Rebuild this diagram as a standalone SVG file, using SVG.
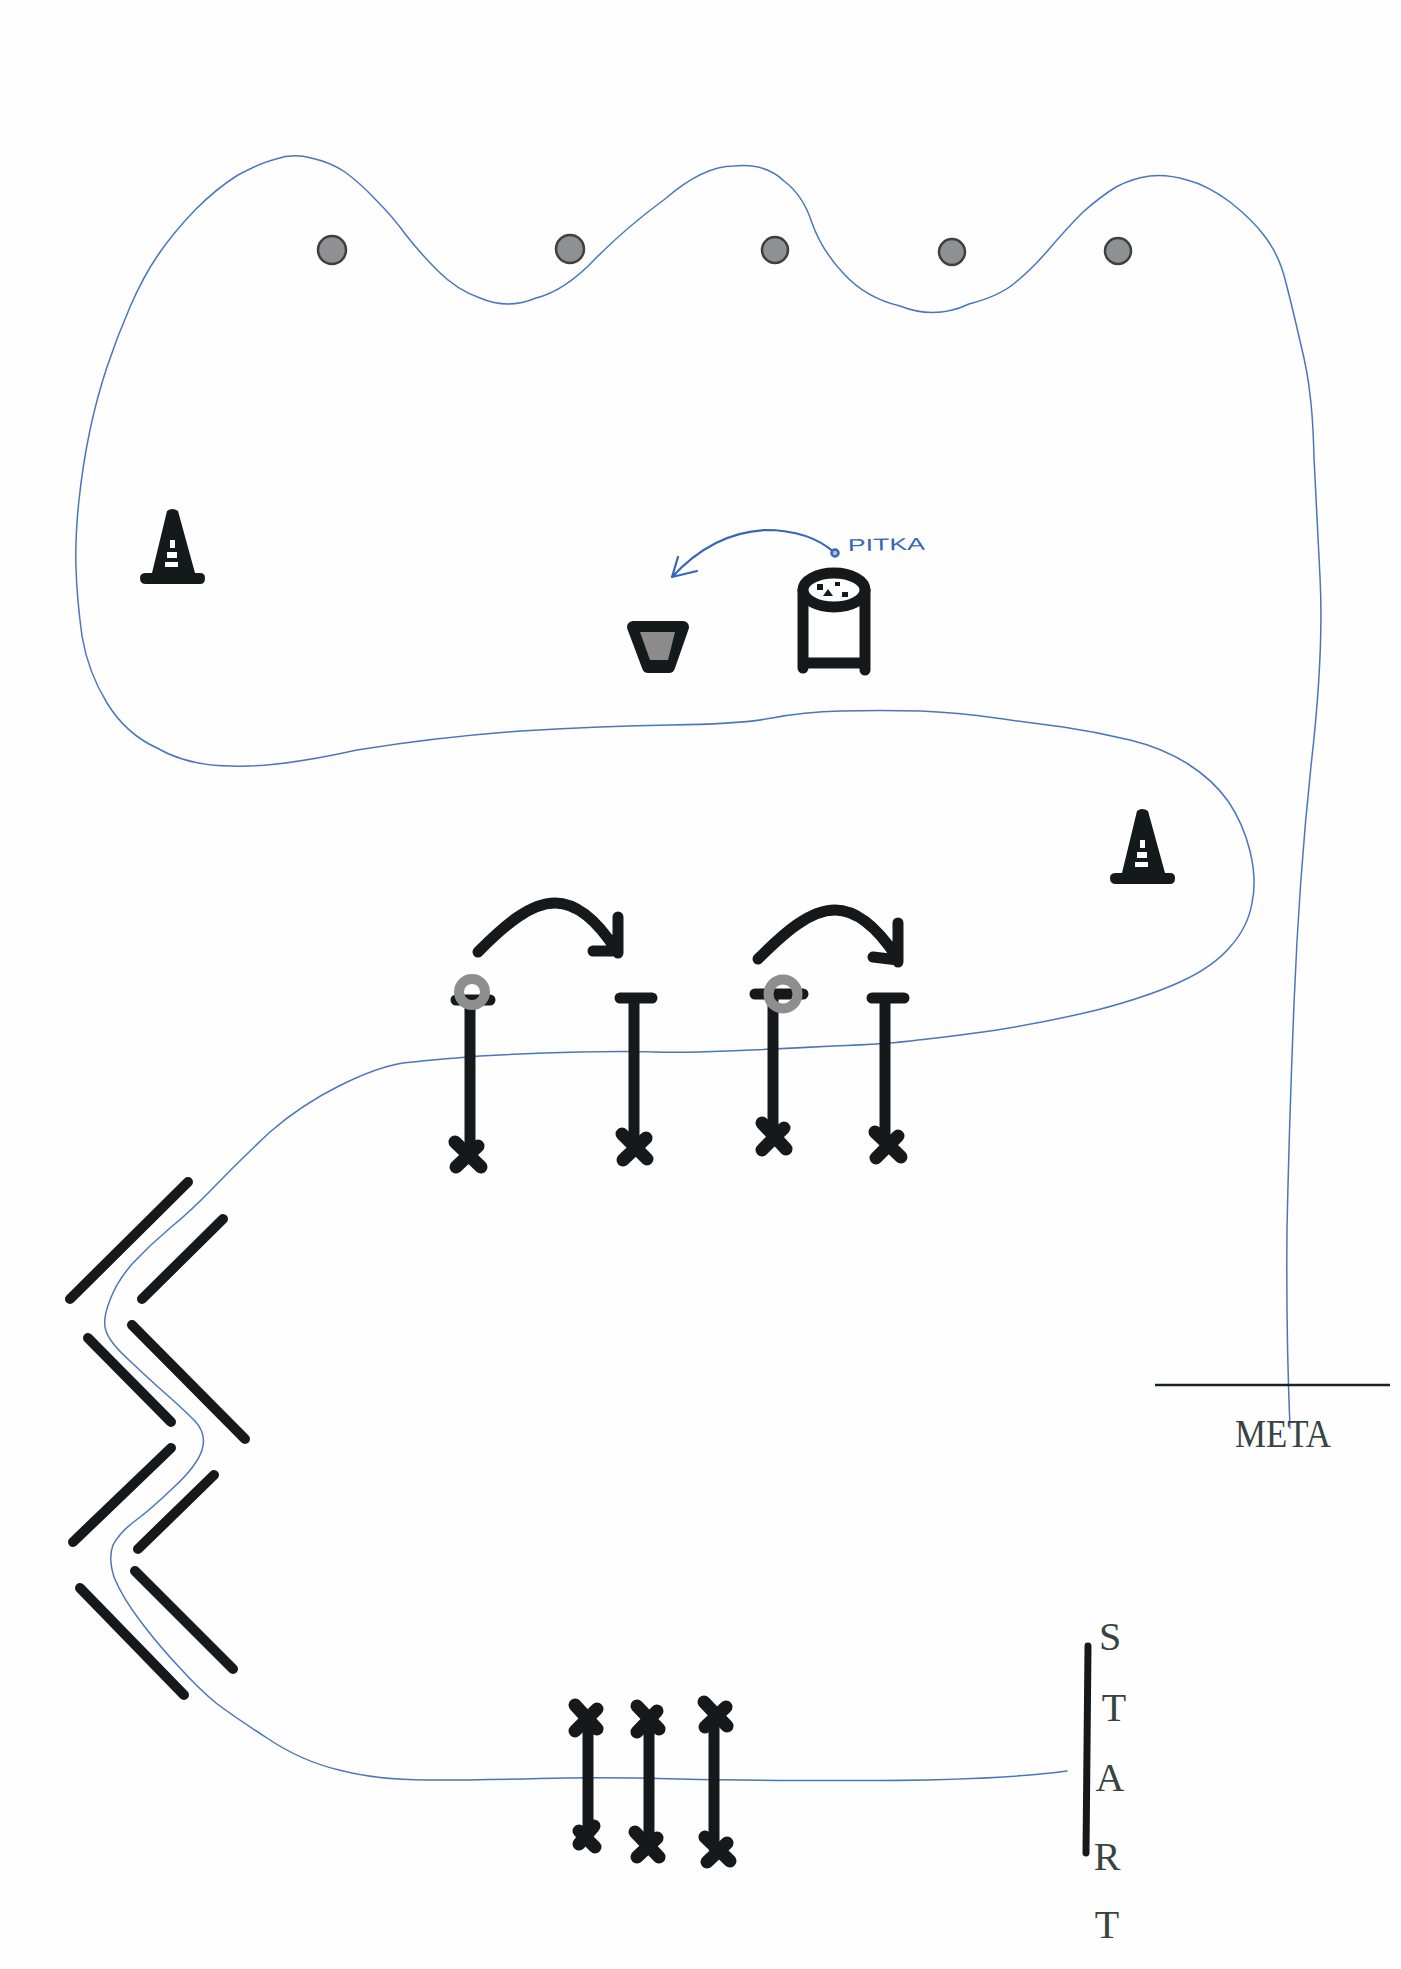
<svg xmlns="http://www.w3.org/2000/svg" width="1401" height="1969" viewBox="0 0 1401 1969">
<style>
.k{stroke:#15191c;fill:none;stroke-linecap:round;stroke-linejoin:round}
.s8{stroke-width:10}.s10{stroke-width:11}.s11{stroke-width:13}
.blue{stroke:#4a76bd;fill:none;stroke-linecap:round;stroke-linejoin:round}
.dot{fill:#8f9091;stroke:#3b4042;stroke-width:2.5}
.ring{fill:none;stroke:#8e8e8e;stroke-width:10}
.lab{font-family:"Liberation Serif","DejaVu Serif",serif;font-size:40px;fill:#38443f;text-anchor:middle}
</style>
<defs>
<g id="cone">
<path d="M167 511Q172 507 178 511L195 573H200Q205 573 205 578Q205 584 200 584H146Q140 584 140 578Q140 573 146 573H152Z" fill="#14191c"/>
<path d="M170 540H175V548H170Z M167 552H177V558H167Z M165 562H178V567H165Z" fill="#fff"/>
</g>
</defs>
<rect width="1401" height="1969" fill="#fefefe"/>
<g id="connectors">
<path id="route" class="blue" stroke-width="1.5" d="M1067 1771Q1000 1780 880 1780.5Q760 1781 680 1779Q600 1777 540 1778.5Q480 1780 428 1780Q377 1780 339 1770Q301 1761 267 1738Q233 1716 216 1703Q200 1690 180 1668Q160 1647 141 1622Q122 1597 114 1577Q108 1558 113 1545Q120 1532 135 1521Q150 1510 173 1488Q197 1466 202 1450Q207 1434 195 1421Q183 1409 166 1394Q150 1380 130 1361Q110 1343 106 1331Q102 1320 110 1300Q117 1281 133 1263Q150 1245 170 1228Q190 1212 215 1186Q240 1160 270 1132Q301 1105 339 1086Q377 1067 403 1063Q430 1060 480 1056Q530 1053 580 1052Q630 1051 655 1052Q680 1053 728 1051Q777 1049 833 1046Q890 1044 918 1040Q947 1037 997 1030Q1047 1022 1097 1010Q1147 997 1180 982Q1213 967 1230 947Q1248 927 1252 903Q1257 880 1250 851Q1243 823 1228 801Q1213 780 1188 764Q1163 748 1130 740Q1097 732 1063 727Q1030 723 996 718Q963 713 921 711Q880 710 841 711Q803 712 772 718Q741 724 672 725Q603 726 521 731Q439 737 357 750Q276 768 232 766Q188 766 157 748Q126 734 107 703Q88 672 82 636Q77 600 76 568Q75 537 79 500Q83 463 90 430Q97 397 107 367Q117 337 130 307Q143 277 158 255Q173 233 195 210Q217 188 238 175Q260 163 276 159Q293 153 311 158Q330 162 345 172Q360 183 376 200Q393 217 406 235Q420 253 438 271Q457 290 480 298Q508 310 536 298Q565 291 596 258Q628 226 665 199Q703 166 734 166Q766 163 784 181Q803 195 812 223Q822 251 844 274Q866 298 900 306Q935 320 969 304Q1000 296 1016 282Q1033 268 1050 248Q1067 228 1083 212Q1100 197 1116 187Q1133 178 1150 176Q1167 174 1187 180Q1207 185 1230 202Q1253 220 1266 238Q1280 257 1286 283Q1293 310 1300 341Q1308 373 1310 395Q1313 417 1314 458Q1316 500 1320 577Q1324 653 1311 766Q1299 879 1294 1004Q1289 1130 1287 1230Q1286 1331 1290 1428"/>
<path id="pitka-arrow" class="blue" stroke-width="2.2" style="stroke:#3766b8" d="M835 553C815 535 790 530 765 530C725 532 695 552 672 577M678 557L672 577L697 571"/>
<path id="jump1" class="k s10" d="M478 952C505 925 530 903 555 903C580 903 600 925 616 950M618 917V953M593 951H618"/>
<path id="jump2" class="k s10" d="M758 959C785 932 810 910 835 910C860 910 880 932 896 956M898 923V962M873 957L898 960"/>
</g>
<g id="pylons">
<circle id="pylon1" class="dot" cx="332" cy="250" r="14"/>
<circle id="pylon2" class="dot" cx="570" cy="249" r="14"/>
<circle id="pylon3" class="dot" cx="775" cy="250" r="13"/>
<circle id="pylon4" class="dot" cx="952" cy="252" r="13"/>
<circle id="pylon5" class="dot" cx="1118" cy="251" r="13"/>
</g>
<g id="cone1"><use href="#cone"/></g>
<g id="cone2"><use href="#cone" x="970" y="300"/></g>
<g id="bucket"><path d="M633 627H683L669 667H648Z" fill="#14191c" stroke="#14191c" stroke-width="12" stroke-linejoin="round"/><path d="M640 632H675L668 660H650Z" fill="#8b8b8b"/></g>
<g id="can">
<rect x="803" y="590" width="62" height="73" fill="#fff"/>
<path class="k" stroke-width="11" d="M803 590V668M865 590V670M803 663H865"/>
<ellipse cx="834" cy="590" rx="31" ry="17" fill="#fff" stroke="#15191c" stroke-width="11"/>
<g fill="#15191c"><rect x="817" y="584" width="6" height="6"/><rect x="835" y="582" width="5" height="4"/><path d="M828 589L833 596H823Z"/><rect x="842" y="592" width="6" height="5"/></g>
</g>
<g id="pitka"><circle cx="835" cy="553" r="3.5" fill="#a9bde0" stroke="#3766b8" stroke-width="2.5"/>
<text x="848" y="551" font-family="'Liberation Sans',sans-serif" font-size="17" fill="#3766b8" textLength="77" lengthAdjust="spacingAndGlyphs" transform="rotate(-1 848 551)">PITKA</text></g>
<g id="hurdle1"><path class="k s10" d="M456 1000H490M470 1000V1155"/><path class="k s11" d="M455 1142L481 1167M478 1146L456 1167"/><circle class="ring" cx="472" cy="992" r="13"/></g>
<g id="hurdle2"><path class="k s10" d="M620 998H652M634 998V1147"/><path class="k s11" d="M622 1134L647 1159M646 1138L623 1160"/></g>
<g id="hurdle3"><path class="k s10" d="M755 994H803M773 994V1135"/><path class="k s11" d="M762 1123L786 1149M784 1128L762 1150"/><circle class="ring" cx="783" cy="994" r="14.5"/></g>
<g id="hurdle4"><path class="k s10" d="M872 998H904M885 998V1145"/><path class="k s11" d="M875 1132L901 1157M898 1136L876 1158"/></g>
<g id="slalom">
<path class="k s8" d="M188 1182L70 1299M223 1219L142 1299M88 1338L171 1422M132 1325L245 1439M171 1448L73 1542M214 1475L138 1549M135 1571L233 1669M80 1588L184 1695"/>
</g>
<g id="gate1"><path class="k s10" d="M588 1718V1837"/><path class="k s11" d="M575 1705L597 1729M597 1709L575 1731M594 1826L579 1844M579 1831L595 1847"/></g>
<g id="gate2"><path class="k s10" d="M649 1717V1843"/><path class="k s11" d="M637 1706L659 1729M657 1711L637 1732M635 1832L659 1857M657 1838L637 1857"/></g>
<g id="gate3"><path class="k s10" d="M714 1713V1848"/><path class="k s11" d="M704 1702L727 1726M726 1707L705 1727M705 1837L730 1861M727 1843L707 1862"/></g>
<g id="start">
<path class="k" stroke-width="7" d="M1088 1646L1086 1853"/>
<text class="lab" x="1110" y="1650">S</text>
<text class="lab" x="1114" y="1721">T</text>
<text class="lab" x="1110" y="1791">A</text>
<text class="lab" x="1107" y="1870">R</text>
<text class="lab" x="1107" y="1938">T</text>
</g>
<g id="meta">
<path d="M1155 1385H1390" stroke="#1a2024" stroke-width="2.5" fill="none"/>
<text class="lab" x="1283" y="1447" textLength="96" lengthAdjust="spacingAndGlyphs">META</text>
</g>
</svg>
